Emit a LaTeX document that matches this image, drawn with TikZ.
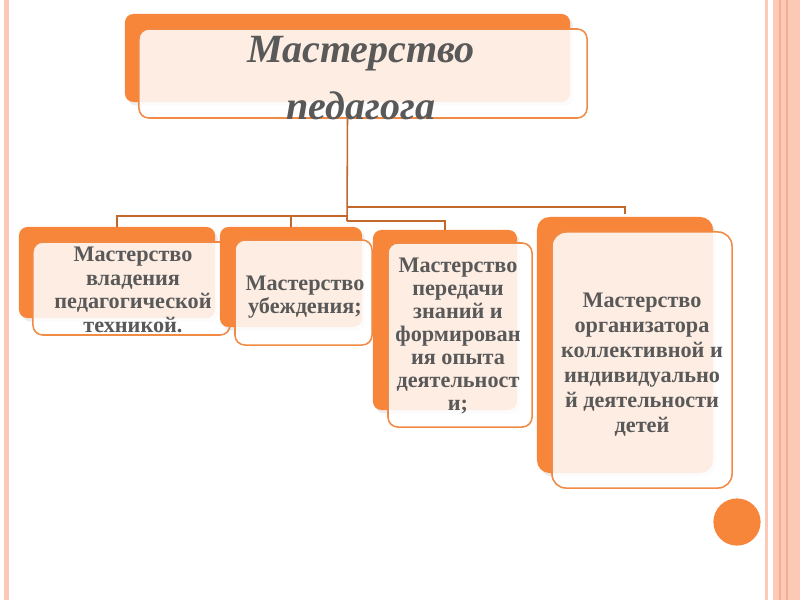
\documentclass[tikz,border=0pt]{standalone}
\usepackage{fontspec}
\setmainfont{Liberation Serif}
\usetikzlibrary{positioning,shadows}
\definecolor{orangeback}{HTML}{F8863A}
\definecolor{peachline}{HTML}{F08A45}
\definecolor{linkbrown}{HTML}{C2682C}
\definecolor{textgray}{HTML}{595959}
\definecolor{stripe}{HTML}{FBC9B5}
\definecolor{stripedark}{HTML}{F4AE92}

\begin{document}
\begin{tikzpicture}[x=0.025cm,y=-0.025cm]
\tikzstyle{back}=[fill=orangeback, rounded corners=6pt, inner sep=0pt,
  drop shadow={opacity=0.15, shadow xshift=2pt, shadow yshift=-2.5pt}]
\tikzstyle{front}=[fill=white, fill opacity=0.86, draw=peachline, draw opacity=1, line width=1.1pt, rounded corners=7pt, inner sep=0pt]
\tikzstyle{txt}=[text=textgray, font=\bfseries\fontsize{15.8}{16.8}\selectfont, align=center, inner sep=0pt]
\tikzstyle{conn}=[draw=linkbrown, line width=1.1pt]

\useasboundingbox (0,0) rectangle (800,600);
\fill[white] (0,0) rectangle (800,600);

% slide frame
\fill[stripe] (4,0) rectangle (9,600);
\fill[stripe] (765,0) rectangle (768,600);
\fill[stripe] (773,0) rectangle (800,600);
\draw[stripedark, line width=0.8pt] (780,0) -- (780,600);
\draw[stripedark, line width=0.8pt] (787,0) -- (787,600);

% top box
\node[back, minimum width=11.125cm, minimum height=2.2cm] (topback) at (347.5,58) {};
\node[front, minimum width=11.2cm, minimum height=2.225cm] (topfront) at (363,73.5) {};
\node[txt, font=\bfseries\itshape\fontsize{28.5}{40}\selectfont] (toptext) at (361,78) {Мастерство\\педагога};

% lower boxes
\node[back, minimum width=4.9cm, minimum height=2.275cm] (b1back) at (117,272.5) {};
\node[front, minimum width=4.925cm, minimum height=2.325cm] (b1front) at (131.5,288.5) {};
\node[txt] (b1text) at (133,290) {Мастерство\\владения\\педагогической\\техникой.};

\node[back, minimum width=3.55cm, minimum height=2.5cm] (b2back) at (291,277) {};
\node[front, minimum width=3.425cm, minimum height=2.625cm] (b2front) at (303.5,292.5) {};
\node[txt] (b2text) at (305,297) {Мастерство\\убеждения;};

\node[back, minimum width=3.6cm, minimum height=4.5cm] (b3back) at (445,320) {};
\node[front, minimum width=3.6cm, minimum height=4.6cm] (b3front) at (460,335) {};
\node[txt, font=\bfseries\fontsize{15.8}{16.4}\selectfont] (b3text) at (458,336) {Мастерство\\передачи\\знаний и\\формирован\\ия опыта\\деятельност\\и;};

\node[back, minimum width=4.4cm, minimum height=6.4cm, rounded corners=9pt] (b4back) at (625,345) {};
\node[front, minimum width=4.5cm, minimum height=6.4cm, rounded corners=10pt] (b4front) at (642,360) {};
\node[txt, font=\bfseries\fontsize{15.8}{17.8}\selectfont] (b4text) at (642,364.5) {Мастерство\\организатора\\коллективной и\\индивидуально\\й деятельности\\детей};

% connectors
\coordinate (fork) at (347,207);
\coordinate (hub) at (347,216);
\coordinate (hub3) at (347,221);
\draw[conn] (topback.center |- topfront.south) -- (hub3);
\draw[conn] (fork) -| ([yshift=2pt]b4back.north);
\draw[conn] (hub) -| (b1back.north);
\draw[conn] (hub) -| (b2back.north);
\draw[conn] (hub3) -| (b3back.north);

% corner dot
\node[circle, fill=orangeback, minimum size=1.18cm, inner sep=0pt] (dot) at (737,522) {};
\end{tikzpicture}
\end{document}
